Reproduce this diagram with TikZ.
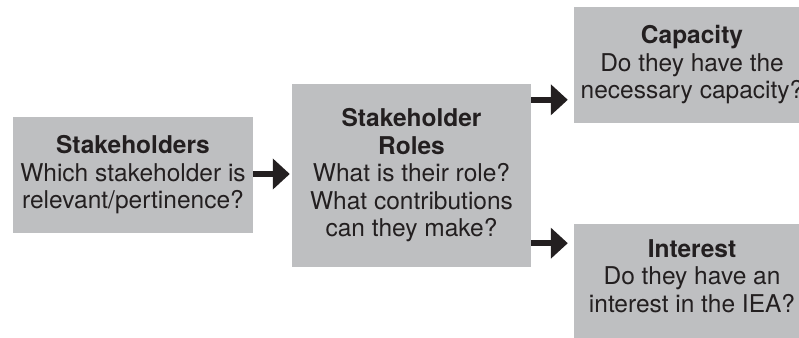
\documentclass[tikz,border=0pt]{standalone}
\usepackage{fontspec}
\setmainfont{TeX Gyre Heros}
\usetikzlibrary{positioning, calc, arrows.meta}

\definecolor{boxgray}{RGB}{190,191,193}
\definecolor{inkdark}{RGB}{35,31,32}

\begin{document}
\begin{tikzpicture}[x=1pt, y=1pt,
  stepbox/.style={rectangle, fill=boxgray, inner sep=0pt, align=center, text=inkdark,
                  font=\fontsize{24.5}{27.5}\selectfont},
  flow/.style={-{Triangle[length=17pt, width=30pt]}, line width=6pt, draw=inkdark}]
  \useasboundingbox (0,0) rectangle (799,337);
  \clip (0,0) rectangle (799,337);

  % boxes
  \node[stepbox, minimum width=240pt, minimum height=116pt] (stake) at (133,162)
    {\textbf{Stakeholders}\\Which stakeholder is\\relevant/pertinence?};
  \node[stepbox, minimum width=239pt, minimum height=183pt] (roles) at (411.5,161.5)
    {\textbf{Stakeholder}\\\textbf{Roles}\\What is their role?\\What contributions\\can they make?};
  \node[stepbox, minimum width=236pt, minimum height=116pt] (capacity) at (692,272)
    {\textbf{Capacity}\\Do they have the\\necessary capacity?};
  \node[stepbox, minimum width=236pt, minimum height=116pt, text depth=12pt] (interest) at (692,55)
    {\textbf{Interest}\\Do they have an\\interest in the IEA?};

  % arrows
  \draw[flow, shorten >=2pt] ([yshift=1pt]stake.east) -- ([yshift=1pt]stake.east -| roles.west);
  \draw[flow, shorten >=6pt] ([yshift=-16pt]roles.north east) -- ([yshift=-16pt]roles.north east -| capacity.west);
  \draw[flow, shorten >=6pt] ([yshift=24pt]roles.south east) -- ([yshift=24pt]roles.south east -| interest.west);
\end{tikzpicture}
\end{document}
